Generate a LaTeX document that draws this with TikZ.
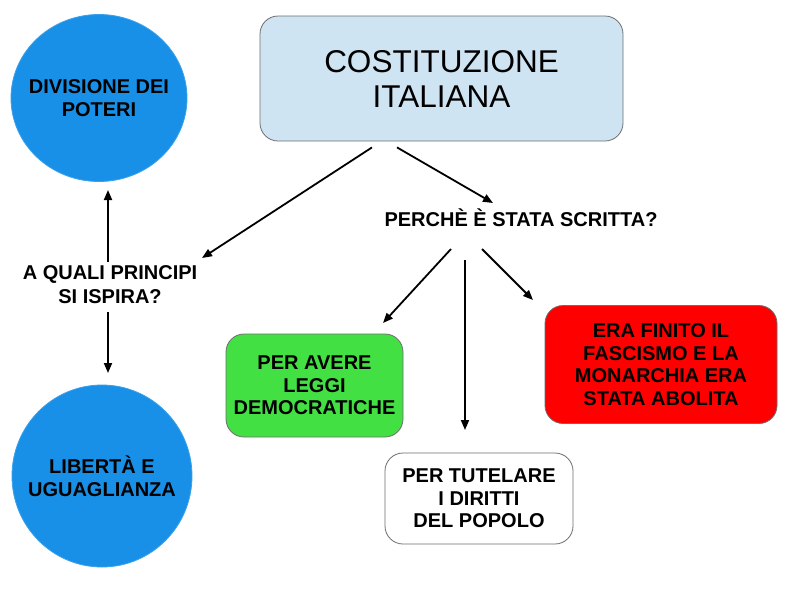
\documentclass[tikz,border=0pt]{standalone}
\usepackage{fontspec}
\setmainfont{Liberation Sans}
\usetikzlibrary{arrows.meta,shapes.geometric}
\definecolor{circblue}{RGB}{24,144,232}
\definecolor{lightbox}{RGB}{207,228,243}
\definecolor{greenbox}{RGB}{66,224,66}
\definecolor{redbox}{RGB}{255,0,0}
\definecolor{edgegray}{RGB}{110,110,110}
\tikzset{
  lbl/.style={font=\bfseries\fontsize{20}{22.5}\selectfont, align=center, inner sep=0pt, text=black},
  circ/.style={ellipse, fill=circblue, draw=circblue!85!white, line width=0.8pt, inner sep=0pt},
  rbox/.style={rectangle, rounded corners=18pt, draw=edgegray, line width=0.8pt, inner sep=0pt, lbl},
  arr/.style={line width=1.8pt, -{Triangle[length=10pt,width=8pt]}}
}
\begin{document}
\begin{tikzpicture}[x=1pt,y=-1pt]
\useasboundingbox (0,0) rectangle (794,595);
\fill[white] (0,0) rectangle (794,595);

\node[rbox, fill=lightbox, minimum width=363pt, minimum height=125pt,
  font=\fontsize{31.5}{35}\selectfont] (cost) at (441.5,78.5) {COSTITUZIONE\\ITALIANA};

\node[circ, minimum width=176pt, minimum height=167pt,
  label={[lbl]center:DIVISIONE DEI\\POTERI}] (div) at (99,98) {};
\node[circ, minimum width=180pt, minimum height=182pt,
  label={[lbl]center:LIBERTÀ E\\UGUAGLIANZA}] (lib) at (102,476) {};

\node[lbl] (perche) at (521,218) {PERCHÈ È STATA SCRITTA?};
\node[lbl, font=\bfseries\fontsize{20}{24}\selectfont] (qa) at (110,285) {A QUALI PRINCIPI\\SI ISPIRA?};

\node[rbox, fill=greenbox, minimum width=177pt, minimum height=103pt] (green) at (314.5,385.5) {PER AVERE\\LEGGI\\DEMOCRATICHE};
\node[rbox, fill=redbox, minimum width=232pt, minimum height=118pt] (red) at (661,364.5) {ERA FINITO IL\\FASCISMO E LA\\MONARCHIA ERA\\STATA ABOLITA};
\node[rbox, fill=white, minimum width=188pt, minimum height=91pt] (white) at (479,498.5) {PER TUTELARE\\I DIRITTI\\DEL POPOLO};

\draw[arr] ([shift={(-69.5,6)}]cost.south) -- ([shift={(92,-27)}]qa.center);
\draw[arr] ([shift={(-44.5,6)}]cost.south) -- ([shift={(-28,-15)}]perche.center);
\draw[arr] ([shift={(-2,-23)}]qa.center) -- ([shift={(9,92)}]div.center);
\draw[arr] ([shift={(-2,27)}]qa.center) -- ([shift={(6,-103)}]lib.center);
\draw[arr] ([shift={(-70,31)}]perche.center) -- ([shift={(68.5,-62.5)}]green.center);
\draw[arr] ([shift={(-56,42)}]perche.center) -- ([shift={(-14,-68.5)}]white.center);
\draw[arr] ([shift={(-39,31)}]perche.center) -- ([shift={(-128,-64.5)}]red.center);
\end{tikzpicture}
\end{document}
